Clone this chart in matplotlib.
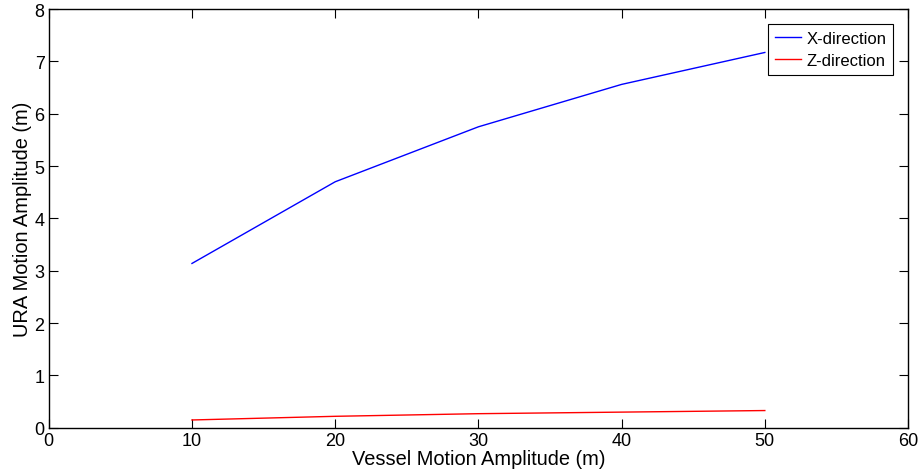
import matplotlib
matplotlib.use('Agg')
import matplotlib.pyplot as plt

plt.rcParams['font.family'] = ['Liberation Sans', 'DejaVu Sans']

vessel_amp = [10, 20, 30, 40, 50]
x_direction = [3.14, 4.70, 5.75, 6.56, 7.17]
z_direction = [0.15, 0.22, 0.27, 0.30, 0.33]

fig = plt.figure(figsize=(9.2, 4.77), dpi=100)
ax = fig.add_axes([0.053, 0.101, 0.934, 0.878])

ax.plot(vessel_amp, x_direction, color='blue', lw=1, label='X-direction')
ax.plot(vessel_amp, z_direction, color='red', lw=1, label='Z-direction')

ax.set_xlim(0, 60)
ax.set_ylim(0, 8)
ax.set_xticks(range(0, 61, 10))
ax.set_yticks(range(0, 9))
ax.tick_params(direction='in', top=True, right=True, labelsize=13, length=6.5, width=0.8)
ax.tick_params(axis='x', pad=3)
ax.tick_params(axis='y', pad=3)
for s in ax.spines.values():
    s.set_linewidth(1)
ax.set_xlabel('Vessel Motion Amplitude (m)', fontsize=14.4, labelpad=0)
ax.set_ylabel('URA Motion Amplitude (m)', fontsize=14.4, labelpad=2)

leg = ax.legend(loc='upper right', fontsize=12, fancybox=False, framealpha=1,
                edgecolor='black', handlelength=1.6, handletextpad=0.3,
                borderaxespad=0.9, labelspacing=0.45, borderpad=0.4)
leg.get_frame().set_linewidth(0.8)

fig.savefig('out.png', dpi=100)
